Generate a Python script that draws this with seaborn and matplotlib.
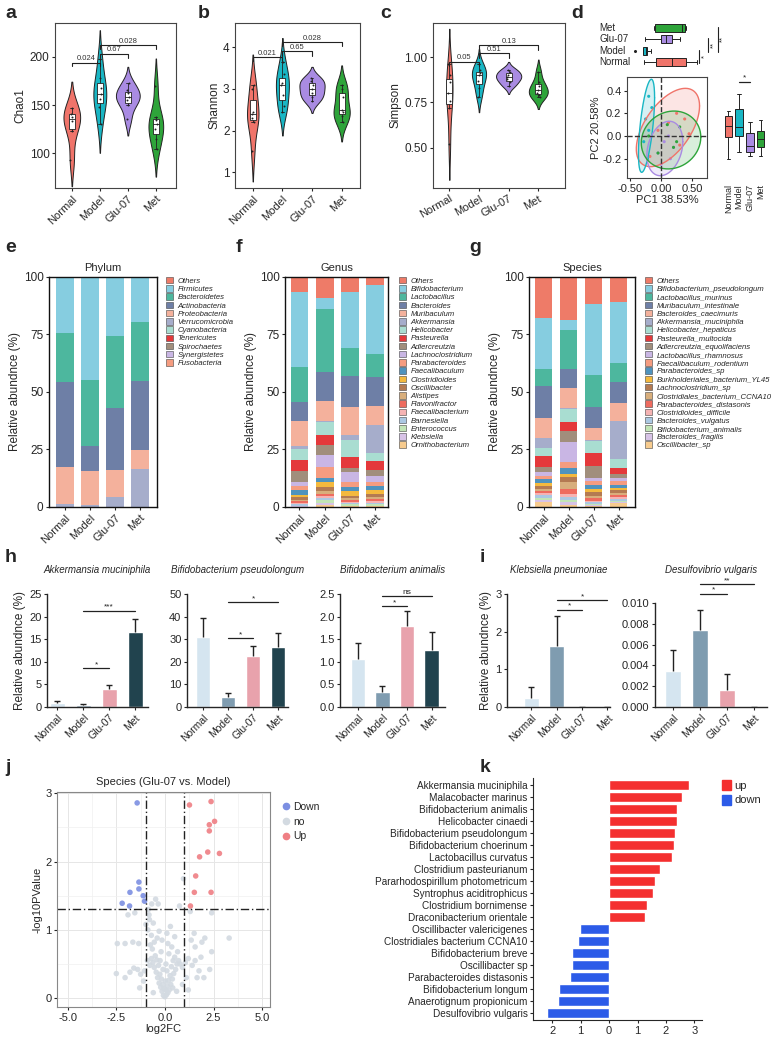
import numpy as np
import pandas as pd
import matplotlib
matplotlib.use("Agg")
import matplotlib.pyplot as plt
from matplotlib.patches import Patch
from matplotlib.lines import Line2D
import seaborn as sns

sns.set_style("ticks")
plt.rcParams["font.family"] = ["Liberation Sans", "DejaVu Sans"]
plt.rcParams["axes.linewidth"] = 0.8
plt.rcParams["xtick.major.width"] = 0.8
plt.rcParams["ytick.major.width"] = 0.8
plt.rcParams["xtick.major.size"] = 2.5
plt.rcParams["ytick.major.size"] = 2.5
plt.rcParams["xtick.major.pad"] = 1.5
plt.rcParams["ytick.major.pad"] = 1.5

# ---------------- data ----------------
groups = ["Normal", "Model", "Glu-07", "Met"]
group_colors = ["#F0746A", "#19B6C4", "#A98BE2", "#2EA43A"]
bar_colors = ["#D5E5F0", "#7F9CB0", "#E8A2AC", "#21434E"]

# a-c alpha diversity (samples per group)
chao1 = [[93, 123, 133, 138, 141, 147],
         [130, 148, 156, 161, 168, 178, 198],
         [135, 150, 155, 158, 162, 166, 173],
         [104, 115, 125, 130, 134, 138, 170]]
shannon = [[1.5, 2.2, 2.3, 2.4, 2.45, 3.0, 3.1],
           [2.45, 2.6, 2.85, 3.1, 3.15, 3.35, 3.65],
           [2.7, 2.8, 2.9, 3.0, 3.1, 3.2, 3.25],
           [2.2, 2.35, 2.45, 2.5, 2.8, 3.0, 3.1]]
simpson = [[0.52, 0.72, 0.76, 0.8, 0.86, 0.9, 0.96],
           [0.78, 0.83, 0.87, 0.9, 0.91, 0.93, 0.96],
           [0.84, 0.86, 0.88, 0.89, 0.9, 0.92, 0.93],
           [0.78, 0.79, 0.8, 0.82, 0.84, 0.86, 0.92]]
chao1_p = [(0, 1, 194, "0.024"), (1, 2, 203, "0.67"), (1, 3, 212, "0.028")]
shannon_p = [(0, 1, 3.76, "0.021"), (1, 2, 3.9, "0.65"), (1, 3, 4.12, "0.028")]
simpson_p = [(0, 1, 0.973, "0.05"), (1, 2, 1.02, "0.51"), (1, 3, 1.065, "0.13")]

# d PCA
pca_x = [[0.25, 0.38, 0.12, -0.05, 0.30, -0.18, 0.45],
         [-0.2, -0.25, -0.2, -0.28, -0.22, -0.15],
         [0.05, 0.15, 0.0, 0.12, -0.05, 0.2],
         [0.2, 0.25, -0.05, 0.1, 0.3, -0.2]]
pca_y = [[0.2, 0.15, 0.12, 0.05, -0.08, -0.18, 0.02],
         [0.35, 0.15, 0.05, -0.05, -0.2, 0.25],
         [-0.05, -0.2, -0.25, 0.0, -0.15, -0.1],
         [-0.1, -0.05, -0.15, 0.1, 0.08, 0.0]]
ell_cx = [0.11, -0.235, 0.06, 0.16]
ell_cy = [0.075, 0.09, -0.11, -0.035]
ell_sx = [0.51, 0.13, 0.29, 0.48]
ell_sy = [0.345, 0.41, 0.24, 0.255]
ell_rho = [0.55, 0.6, 0.25, 0.1]
pc1_box = [[-0.27, -0.08, 0.18, 0.40, 0.58],
           [-0.42, -0.29, -0.25, -0.22, -0.16],
           [-0.26, 0.0, 0.08, 0.18, 0.31],
           [-0.12, -0.1, 0.34, 0.39, 0.4]]
pc2_box = [[-0.2, -0.01, 0.09, 0.18, 0.22],
           [-0.14, 0.0, 0.08, 0.24, 0.37],
           [-0.18, -0.14, -0.09, 0.03, 0.12],
           [-0.18, -0.1, -0.03, 0.04, 0.14]]

# e-g community composition (%), rows = taxa, cols = groups
taxa_colors = ["#EE7B68", "#86CDE0", "#4DB79E", "#6E7FA6", "#F4B19C", "#A6ADCB", "#A9DDD1",
               "#E4393B", "#A18E7C", "#C9B6E4", "#F59C80", "#4F93BE", "#F4B93E", "#B47A52",
               "#D8AE7C", "#EE6B5F", "#F5B3B3", "#ABC8E2", "#C2E5B6", "#D7C3E6", "#F7CB8E"]
phylum_names = ["Others", "Firmicutes", "Bacteroidetes", "Actinobacteria", "Proteobacteria",
                "Verrucomicrobia", "Cyanobacteria", "Tenericutes", "Spirochaetes",
                "Synergistetes", "Fusobacteria"]
phylum_pct = [[0.1, 0.1, 0.0, 0.0],
              [24.1, 44.7, 25.8, 19.4],
              [21.6, 28.5, 31.0, 25.9],
              [37.0, 11.0, 27.3, 30.0],
              [15.8, 15.0, 11.5, 8.0],
              [1.2, 0.5, 4.2, 16.5],
              [0.08, 0.08, 0.08, 0.08],
              [0.05, 0.05, 0.05, 0.05],
              [0.03, 0.03, 0.03, 0.03],
              [0.02, 0.02, 0.02, 0.02],
              [0.02, 0.02, 0.02, 0.02]]
genus_names = ["Others", "Bifidobacterium", "Lactobacillus", "Bacteroides", "Muribaculum",
               "Akkermansia", "Helicobacter", "Pasteurella", "Adlercreutzia", "Lachnoclostridium",
               "Parabacteroides", "Faecalibaculum", "Clostridioides", "Oscillibacter", "Alistipes",
               "Flavonifractor", "Faecalibacterium", "Barnesiella", "Enterococcus", "Klebsiella",
               "Ornithobacterium"]
genus_pct = [[6.5, 9.3, 6.5, 3.5],
             [32.5, 4.8, 24.5, 30.0],
             [15.5, 27.0, 12.0, 10.0],
             [8.3, 13.0, 13.5, 12.4],
             [10.5, 8.6, 12.5, 8.6],
             [1.7, 0.3, 2.0, 12.0],
             [4.5, 5.7, 7.5, 3.5],
             [5.0, 4.3, 4.5, 4.0],
             [4.5, 4.4, 2.0, 2.5],
             [1.8, 5.2, 4.2, 2.5],
             [2.0, 4.8, 2.2, 2.0],
             [1.8, 1.8, 1.8, 1.8],
             [1.2, 2.0, 2.0, 1.5],
             [1.0, 1.8, 1.0, 1.2],
             [0.8, 1.5, 1.0, 1.0],
             [0.7, 0.8, 0.6, 1.0],
             [0.6, 1.0, 0.6, 0.8],
             [0.5, 0.8, 0.5, 0.6],
             [0.3, 1.0, 0.6, 0.5],
             [0.2, 1.2, 0.3, 0.3],
             [0.1, 0.7, 0.3, 0.3]]
species_names = ["Others", "Bifidobacterium_pseudolongum", "Lactobacillus_murinus",
                 "Muribaculum_intestinale", "Bacteroides_caecimuris", "Akkermansia_muciniphila",
                 "Helicobacter_hepaticus", "Pasteurella_multocida", "Adlercreutzia_equolifaciens",
                 "Lactobacillus_rhamnosus", "Faecalibaculum_rodentium", "Parabacteroides_sp",
                 "Burkholderiales_bacterium_YL45", "Lachnoclostridium_sp",
                 "Clostridiales_bacterium_CCNA10", "Parabacteroides_distasonis",
                 "Clostridioides_difficile", "Bacteroides_vulgatus", "Bifidobacterium_animalis",
                 "Bacteroides_fragilis", "Oscillibacter_sp"]
species_pct = [[18.0, 18.7, 12.2, 11.0],
               [22.0, 4.3, 30.8, 26.4],
               [7.4, 17.0, 14.0, 8.3],
               [13.9, 8.3, 9.0, 9.3],
               [8.7, 8.7, 5.3, 7.6],
               [4.5, 0.3, 0.5, 16.5],
               [3.5, 5.6, 5.0, 3.9],
               [4.5, 3.9, 5.7, 2.7],
               [2.5, 4.8, 5.2, 1.7],
               [1.5, 8.7, 1.2, 1.3],
               [1.5, 2.6, 2.0, 1.7],
               [1.5, 2.6, 1.5, 1.3],
               [1.5, 1.3, 1.5, 1.0],
               [1.0, 2.2, 1.5, 1.0],
               [1.0, 3.0, 1.2, 1.0],
               [1.0, 2.2, 1.0, 1.0],
               [1.0, 1.3, 0.7, 0.8],
               [1.0, 1.3, 0.5, 0.7],
               [1.0, 0.9, 0.5, 0.6],
               [1.0, 1.3, 0.4, 0.6],
               [2.0, 1.0, 0.6, 1.6]]

# h-i species abundance (mean, SD)
akk_mean, akk_sd = [0.9, 0.45, 3.9, 16.5], [0.4, 0.25, 0.9, 2.9]
bps_mean, bps_sd = [31.0, 4.5, 22.5, 26.5], [8.5, 1.5, 4.3, 6.3]
ban_mean, ban_sd = [1.07, 0.33, 1.8, 1.27], [0.35, 0.13, 0.32, 0.38]
kpn_mean, kpn_sd = [0.25, 1.63, 0.0, 0.0], [0.28, 0.78, 0.0, 0.0]
dvu_mean, dvu_sd = [0.0035, 0.0074, 0.0016, 0.0], [0.002, 0.0019, 0.0016, 0.0]

# j volcano
up_x = [2.37, 1.26, 2.55, 2.28, 2.28, 2.2, 2.8, 1.78, 1.58, 1.51, 2.37, 1.31]
up_y = [2.88, 2.83, 2.59, 2.54, 2.45, 2.14, 2.12, 2.07, 1.79, 1.55, 1.55, 1.35]
down_x = [-1.43, -1.34, -1.34, -1.8, -1.12, -1.05, -2.2, -1.82]
down_y = [2.86, 1.70, 1.60, 1.55, 1.50, 1.42, 1.39, 1.35]
no_pts = [(0.00, 0.02), (0.08, 0.05), (-0.08, 0.04), (0.15, 0.08), (-0.15, 0.10), (0.05, 0.12),
          (-0.05, 0.14), (0.22, 0.12), (-0.22, 0.16), (0.12, 0.18), (-0.12, 0.20), (0.30, 0.20),
          (-0.30, 0.22), (0.02, 0.25), (0.18, 0.26), (-0.18, 0.28), (0.38, 0.28), (-0.38, 0.30),
          (0.26, 0.33), (-0.26, 0.35), (0.45, 0.36), (-0.45, 0.38), (0.10, 0.40), (-0.10, 0.42),
          (0.55, 0.42), (-0.55, 0.45), (0.33, 0.46), (-0.33, 0.48), (0.62, 0.50), (-0.62, 0.52),
          (0.42, 0.55), (-0.42, 0.56), (0.70, 0.55), (-0.70, 0.58), (0.50, 0.60), (-0.50, 0.62),
          (0.78, 0.50), (-0.78, 0.48), (0.90, 0.45), (-0.90, 0.55), (0.20, 0.65), (-0.20, 0.68),
          (0.65, 0.68), (-0.65, 0.72), (1.05, 0.52), (-1.05, 0.40), (1.20, 0.58), (-1.25, 0.35),
          (1.40, 0.48), (-1.40, 0.42), (1.55, 0.55), (-1.60, 0.44), (1.75, 0.40), (-1.80, 0.38),
          (2.00, 0.30), (-2.05, 0.30), (2.30, 0.42), (-2.50, 0.36), (1.35, 0.85), (1.50, 0.95),
          (1.90, 0.82), (2.05, 0.88), (3.30, 0.88), (2.40, 0.68), (1.85, 0.60), (-0.75, 0.78),
          (-0.55, 0.82), (-0.40, 0.88), (-0.70, 0.92), (-0.88, 1.00), (-0.98, 1.08), (-0.80, 1.15),
          (-0.60, 1.10), (-0.82, 1.22), (-1.35, 0.80), (-1.65, 0.82), (-2.05, 0.80), (-2.45, 0.80),
          (-1.90, 1.22), (-1.55, 1.25), (-0.85, 1.30), (-0.68, 1.38), (-0.48, 1.45), (-0.35, 1.38),
          (1.30, 1.27), (0.95, 1.75), (0.75, 1.35), (2.40, 1.25), (0.35, 0.75), (0.50, 0.90),
          (-0.30, 0.98), (0.15, 0.80), (-0.25, 0.55), (0.05, 0.50), (0.10, 0.95), (1.10, 0.30),
          (-1.10, 0.25), (0.90, 0.20), (-1.30, 0.15), (1.20, 0.12), (-0.60, 0.08), (0.60, 0.10),
          (1.55, 0.75), (1.65, 0.30), (0.40, 0.15), (0.28, 1.05), (-0.15, 0.85)]

# k differential species
k_species = ["Akkermansia muciniphila", "Malacobacter marinus", "Bifidobacterium animalis",
             "Helicobacter cinaedi", "Bifidobacterium pseudolongum", "Bifidobacterium choerinum",
             "Lactobacillus curvatus", "Clostridium pasteurianum", "Pararhodospirillum photometricum",
             "Syntrophus aciditrophicus", "Clostridium bornimense", "Draconibacterium orientale",
             "Oscillibacter valericigenes", "Clostridiales bacterium CCNA10", "Bifidobacterium breve",
             "Oscillibacter sp", "Parabacteroides distasonis", "Bifidobacterium longum",
             "Anaerotignum propionicum", "Desulfovibrio vulgaris"]
k_log2fc = [2.8, 2.55, 2.4, 2.38, 2.32, 2.3, 2.22, 1.8, 1.6, 1.53, 1.33, 1.27,
            -1.03, -1.08, -1.3, -1.3, -1.38, -1.77, -1.8, -2.18]

# ---------------- layout helpers ----------------
W, H = 776, 1049
fig = plt.figure(figsize=(W / 100, H / 100), dpi=100)


def box(l, t, r, b):
    return [l / W, 1 - b / H, (r - l) / W, (b - t) / H]


def letter(x, y, s):
    fig.text(x / W, 1 - y / H, s, fontsize=14, fontweight="bold", va="center", ha="left")


def bracket(ax, i, j, y, txt, dy):
    ax.plot([i, i, j, j], [y - dy, y, y, y - dy], color="#222222", lw=0.8, clip_on=False)
    ax.text((i + j) / 2, y + dy * 0.1, txt, ha="center", va="bottom", fontsize=5.5, color="#333333")


def sig(ax, i, j, y, txt):
    ax.plot([i, j], [y, y], color="#222222", lw=0.9, clip_on=False)
    ax.text((i + j) / 2, y, txt, ha="center", va="bottom", fontsize=6, color="#222222")


# ---------------- a-c violins ----------------
def violin_panel(rect, values, ylabel, ylim, yticks, fmt, xlim, pvals, dy, rot):
    ax = fig.add_axes(box(*rect))
    df = pd.DataFrame({"group": np.repeat(groups, [len(v) for v in values]),
                       "value": np.concatenate(values)})
    n0 = len(ax.collections)
    # one shared area scale for all four violins, then colour each group
    sns.violinplot(data=df, x="group", y="value", order=groups, color="white", inner=None,
                   width=0.85, linewidth=0.7, linecolor="#222222", saturation=1, ax=ax)
    for coll, c in zip(ax.collections[n0:], group_colors):
        coll.set_facecolor(c)
    sns.boxplot(data=df, x="group", y="value", order=groups, width=0.2, color="white",
                linecolor="#222222", linewidth=0.6, showfliers=False, ax=ax)
    sns.stripplot(data=df, x="group", y="value", order=groups, color="#222222", size=1.4,
                  jitter=0.05, ax=ax)
    ax.set_xlim(*xlim)
    ax.set_ylim(*ylim)
    ax.set_yticks(yticks)
    ax.set_yticklabels([fmt % v for v in yticks], fontsize=8.5)
    ax.set_xticks(range(4))
    ax.set_xticklabels(groups, rotation=rot, ha="right", rotation_mode="anchor", fontsize=8)
    ax.set_xlabel("")
    ax.set_ylabel(ylabel, fontsize=8.5, labelpad=2)
    for s in ax.spines.values():
        s.set_visible(True)
        s.set_color("#444444")
    for i, j, y, t in pvals:
        bracket(ax, i, j, y, t, dy)
    return ax


violin_panel((55, 23, 176, 188), chao1, "Chao1", (64, 235), [100, 150, 200], "%d",
             (-0.6, 3.72), chao1_p, 4, 45)
violin_panel((235, 23, 360, 188), shannon, "Shannon", (0.62, 4.58), [1, 2, 3, 4], "%d",
             (-0.6, 3.62), shannon_p, 0.1, 45)
violin_panel((433, 23, 565, 188), simpson, "Simpson", (0.28, 1.187), [0.5, 0.75, 1.0], "%.2f",
             (-0.55, 3.9), simpson_p, 0.025, 30)

# ---------------- d PCA ----------------
pca_xlim, pca_ylim = (-0.55, 0.74), (-0.37, 0.52)
top_order = ["Met", "Glu-07", "Model", "Normal"]

ax_dt = fig.add_axes(box(627, 22, 707, 68))
df_pc1 = pd.DataFrame({"group": np.repeat(groups, 5), "pc1": np.concatenate(pc1_box)})
sns.boxplot(data=df_pc1, x="pc1", y="group", hue="group", order=top_order, hue_order=groups,
            palette=group_colors, width=0.7, linewidth=0.7, linecolor="#222222", fliersize=1.2,
            saturation=1, legend=False, ax=ax_dt)
ax_dt.set_xlim(*pca_xlim)
ax_dt.set_ylim(3.5, -0.5)
ax_dt.axis("off")
for k, g in enumerate(top_order):
    ax_dt.text(-0.35, k, g, transform=ax_dt.get_yaxis_transform(), ha="left", va="center",
               fontsize=7)
for x, y0, y1, t in [(0.61, 1.9, 3.1, "*"), (0.75, 0.9, 2.1, "**"), (0.91, -0.1, 2.1, "**")]:
    ax_dt.plot([x, x], [y0, y1], color="#222222", lw=0.8, clip_on=False)
    ax_dt.text(x + 0.035, (y0 + y1) / 2, t, rotation=90, ha="left", va="center", fontsize=5.5)

ax_d = fig.add_axes(box(627, 77, 707, 178))
t = np.linspace(0, 2 * np.pi, 200)
for k in range(4):
    ex = ell_cx[k] + ell_sx[k] * np.cos(t)
    ey = ell_cy[k] + ell_sy[k] * (ell_rho[k] * np.cos(t) + np.sqrt(1 - ell_rho[k] ** 2) * np.sin(t))
    ax_d.fill(ex, ey, facecolor=group_colors[k], alpha=0.18, edgecolor="none")
    ax_d.plot(ex, ey, color=group_colors[k], lw=1.0)
df_pca = pd.DataFrame({"group": np.repeat(groups, [len(v) for v in pca_x]),
                       "x": np.concatenate(pca_x), "y": np.concatenate(pca_y)})
sns.scatterplot(data=df_pca, x="x", y="y", hue="group", hue_order=groups, palette=group_colors,
                s=5, edgecolor="none", legend=False, ax=ax_d)
ax_d.axhline(0, color="#333333", ls="--", lw=1)
ax_d.axvline(0, color="#333333", ls="--", lw=1)
ax_d.set_xlim(*pca_xlim)
ax_d.set_ylim(*pca_ylim)
ax_d.set_xticks([-0.5, 0, 0.5])
ax_d.set_xticklabels(["-0.50", "0.00", "0.50"], fontsize=8)
ax_d.set_yticks([-0.2, 0, 0.2, 0.4])
ax_d.set_yticklabels(["-0.2", "0.0", "0.2", "0.4"], fontsize=8)
ax_d.set_xlabel("PC1 38.53%", fontsize=8, labelpad=1)
ax_d.set_ylabel("PC2 20.58%", fontsize=8, labelpad=1)
for s in ax_d.spines.values():
    s.set_visible(True)
    s.set_color("#444444")

ax_dr = fig.add_axes(box(722, 77, 767, 178))
df_pc2 = pd.DataFrame({"group": np.repeat(groups, 5), "pc2": np.concatenate(pc2_box)})
sns.boxplot(data=df_pc2, x="group", y="pc2", hue="group", order=groups, hue_order=groups,
            palette=group_colors, width=0.7, linewidth=0.7, linecolor="#222222", saturation=1,
            legend=False, ax=ax_dr)
ax_dr.set_ylim(*pca_ylim)
ax_dr.set_xlim(-0.6, 3.6)
ax_dr.set_xticks(range(4))
ax_dr.set_xticklabels(groups, rotation=90, fontsize=6.5)
ax_dr.tick_params(left=False, labelleft=False, bottom=False, pad=2)
ax_dr.set_xlabel("")
ax_dr.set_ylabel("")
sns.despine(ax=ax_dr, left=True, bottom=True)
sig(ax_dr, 1, 2, 0.48, "*")

# ---------------- e-g stacked bars ----------------
def stacked_panel(rect, names, table, title, leg_xy, xlim):
    ax = fig.add_axes(box(*rect))
    bottom = np.zeros(4)
    for name, vals, col in reversed(list(zip(names, table, taxa_colors))):
        ax.bar(range(4), vals, bottom=bottom, width=0.7, color=col, linewidth=0)
        bottom += np.array(vals)
    ax.set_xlim(*xlim)
    ax.set_ylim(0, 100)
    ax.set_yticks([0, 25, 50, 75, 100])
    ax.tick_params(axis="y", labelsize=8.5)
    ax.set_xticks(range(4))
    ax.set_xticklabels(groups, rotation=45, ha="right", rotation_mode="anchor", fontsize=8)
    ax.set_ylabel("Relative abundnce (%)", fontsize=8.5, labelpad=2)
    ax.set_title(title, fontsize=8, pad=4)
    for s in ax.spines.values():
        s.set_visible(True)
        s.set_color("#111111")
        s.set_linewidth(1.0)
    handles = [Patch(facecolor=c, edgecolor="#444444", linewidth=0.4, label=n)
               for n, c in zip(names, taxa_colors)]
    fig.legend(handles=handles, loc="upper left", bbox_to_anchor=(leg_xy[0] / W, 1 - leg_xy[1] / H),
               frameon=False, prop={"size": 5.6, "style": "italic"}, handlelength=0.9,
               handleheight=0.9, labelspacing=0.04, handletextpad=0.6, borderaxespad=0, borderpad=0)
    return ax


stacked_panel((49, 277, 157, 507), phylum_names, phylum_pct, "Phylum", (166, 277), (-0.64, 3.68))
stacked_panel((285, 277, 388, 507), genus_names, genus_pct, "Genus", (399, 277), (-0.57, 3.5))
stacked_panel((529, 277, 635, 507), species_names, species_pct, "Species", (645, 277), (-0.58, 3.66))

# ---------------- h-i bar charts ----------------
def bar_panel(rect, means, sds, title, ylim, yticks, fmt, xlim, sigs, ylabel=None, pad=15):
    ax = fig.add_axes(box(*rect))
    df = pd.DataFrame({"group": groups, "value": means})
    sns.barplot(data=df, x="group", y="value", hue="group", order=groups, hue_order=groups,
                palette=bar_colors, width=0.58, saturation=1, legend=False, ax=ax)
    eb = ax.errorbar(range(4), means, yerr=[np.zeros(4), sds], fmt="none", ecolor="#222222",
                     elinewidth=1.0, capsize=2.5, capthick=1.0)
    for cap in eb[1]:
        if np.allclose(cap.get_ydata(), means):
            cap.set_visible(False)
    ax.set_xlim(*xlim)
    ax.set_ylim(*ylim)
    ax.set_yticks(yticks)
    ax.set_yticklabels([fmt % v for v in yticks], fontsize=8)
    ax.set_xticks(range(4))
    ax.set_xticklabels(groups, rotation=45, ha="right", rotation_mode="anchor", fontsize=7.5)
    ax.set_xlabel("")
    ax.set_ylabel(ylabel if ylabel else "", fontsize=8.5, labelpad=2)
    ax.set_title(title, fontsize=7, style="italic", pad=pad)
    for s in ["left", "bottom"]:
        ax.spines[s].set_linewidth(1.0)
    sns.despine(ax=ax)
    for i, j, y, txt in sigs:
        sig(ax, i, j, y, txt)
    return ax


bar_panel((47, 594, 148, 707), akk_mean, akk_sd, "Akkermansia muciniphila", (0, 25),
          [0, 5, 10, 15, 20, 25], "%d", (-0.4, 3.5), [(1, 2, 8.6, "*"), (1, 3, 21.3, "***")],
          "Relative abundnce (%)")
bar_panel((187, 594, 288, 707), bps_mean, bps_sd, "Bifidobacterium pseudolongum", (0, 50),
          [0, 10, 20, 30, 40, 50], "%d", (-0.64, 3.4), [(1, 2, 30.5, "*"), (1, 3, 46.5, "*")])
bar_panel((340, 594, 445, 707), ban_mean, ban_sd, "Bifidobacterium animalis", (0, 2.5),
          [0, 0.5, 1.0, 1.5, 2.0, 2.5], "%.1f", (-0.73, 3.55), [(1, 2, 2.23, "*"), (1, 3, 2.45, "ns")])
bar_panel((507, 594, 610, 707), kpn_mean, kpn_sd, "Klebsiella pneumoniae", (0, 3),
          [0, 1, 2, 3], "%d", (-0.95, 3.1), [(1, 2, 2.58, "*"), (1, 3, 2.84, "*")],
          "Relative abundnce (%)")
bar_panel((655, 603, 767, 707), dvu_mean, dvu_sd, "Desulfovibrio vulgaris", (0, 0.010),
          [0, 0.002, 0.004, 0.006, 0.008, 0.010], "%.3f", (-0.67, 3.48),
          [(1, 2, 0.0109, "*"), (1, 3, 0.0118, "**")], pad=21.5)

# ---------------- j volcano ----------------
ax_j = fig.add_axes(box(57, 792, 270, 1007))
no_x = [p[0] for p in no_pts]
no_y = [p[1] for p in no_pts]
df_v = pd.DataFrame({"log2FC": no_x + down_x + up_x, "logp": no_y + down_y + up_y,
                     "cls": ["no"] * len(no_x) + ["Down"] * len(down_x) + ["Up"] * len(up_x)})
volcano_pal = {"Down": "#7C8FE2", "no": "#D3DAE1", "Up": "#EF7F84"}
ax_j.set_facecolor("white")
ax_j.set_xticks([-5, -2.5, 0, 2.5, 5])
ax_j.set_xticks([-3.75, -1.25, 1.25, 3.75], minor=True)
ax_j.set_yticks([0, 1, 2, 3])
ax_j.set_yticks([0.5, 1.5, 2.5], minor=True)
ax_j.grid(which="major", color="#E6E6E6", lw=0.7)
ax_j.grid(which="minor", color="#F0F0F0", lw=0.5)
ax_j.set_axisbelow(True)
sns.scatterplot(data=df_v, x="log2FC", y="logp", hue="cls", palette=volcano_pal, s=16,
                edgecolor="none", alpha=0.9, legend=False, ax=ax_j)
for xv in [-1, 1]:
    ax_j.axvline(xv, color="#222222", lw=1.0, ls=(0, (6, 2, 1, 2)))
ax_j.axhline(1.3, color="#222222", lw=1.0, ls=(0, (6, 2, 1, 2)))
ax_j.set_xlim(-5.55, 5.4)
ax_j.set_ylim(-0.13, 3.02)
ax_j.set_xticklabels(["-5.0", "-2.5", "0.0", "2.5", "5.0"], fontsize=8)
ax_j.set_yticklabels(["0", "1", "2", "3"], fontsize=8)
ax_j.tick_params(which="minor", length=0)
ax_j.set_xlabel("log2FC", fontsize=8, labelpad=1)
ax_j.set_ylabel("-log10PValue", fontsize=8, labelpad=2)
ax_j.set_title("Species (Glu-07 vs. Model)", fontsize=8, pad=5)
for s in ax_j.spines.values():
    s.set_visible(True)
    s.set_color("#888888")
fig.legend(handles=[Line2D([], [], marker="o", ls="", color=volcano_pal[c], markersize=4.5, label=c)
                    for c in ["Down", "no", "Up"]],
           loc="upper left", bbox_to_anchor=(282 / W, 1 - 802 / H), frameon=False, fontsize=7.5,
           handlelength=0.8, handletextpad=0.3, labelspacing=0.45, borderaxespad=0, borderpad=0)

# ---------------- k diverging bars ----------------
ax_k = fig.add_axes(box(533, 778, 702, 1020))
df_k = pd.DataFrame({"species": k_species, "fc": k_log2fc,
                     "dir": ["up" if v > 0 else "down" for v in k_log2fc]})
sns.barplot(data=df_k, x="fc", y="species", hue="dir", palette={"up": "#F42F2F", "down": "#2C5BE8"},
            dodge=False, width=0.85, orient="h", saturation=1, legend=False, ax=ax_k)
ax_k.set_xlim(-2.68, 3.27)
ax_k.set_ylim(19.6, -0.6)
ax_k.set_xticks([-2, -1, 0, 1, 2, 3])
ax_k.set_xticklabels(["2", "1", "0", "1", "2", "3"], fontsize=8)
ax_k.tick_params(axis="y", labelsize=7.2)
ax_k.set_xlabel("")
ax_k.set_ylabel("")
sns.despine(ax=ax_k)
fig.legend(handles=[Patch(color="#F42F2F", label="up"), Patch(color="#2C5BE8", label="down")],
           loc="upper left", bbox_to_anchor=(722 / W, 1 - 780 / H), frameon=False, fontsize=8,
           handlelength=0.8, handleheight=1.0, handletextpad=0.3, labelspacing=0.35,
           borderaxespad=0, borderpad=0)

# ---------------- panel letters ----------------
for s, x, y in [("a", 5, 14), ("b", 198, 14), ("c", 380, 14), ("d", 571, 14),
                ("e", 5, 248), ("f", 236, 248), ("g", 469, 248),
                ("h", 5, 558), ("i", 480, 558), ("j", 5, 767), ("k", 480, 767)]:
    letter(x, y, s)

fig.savefig("out.png", dpi=100)
